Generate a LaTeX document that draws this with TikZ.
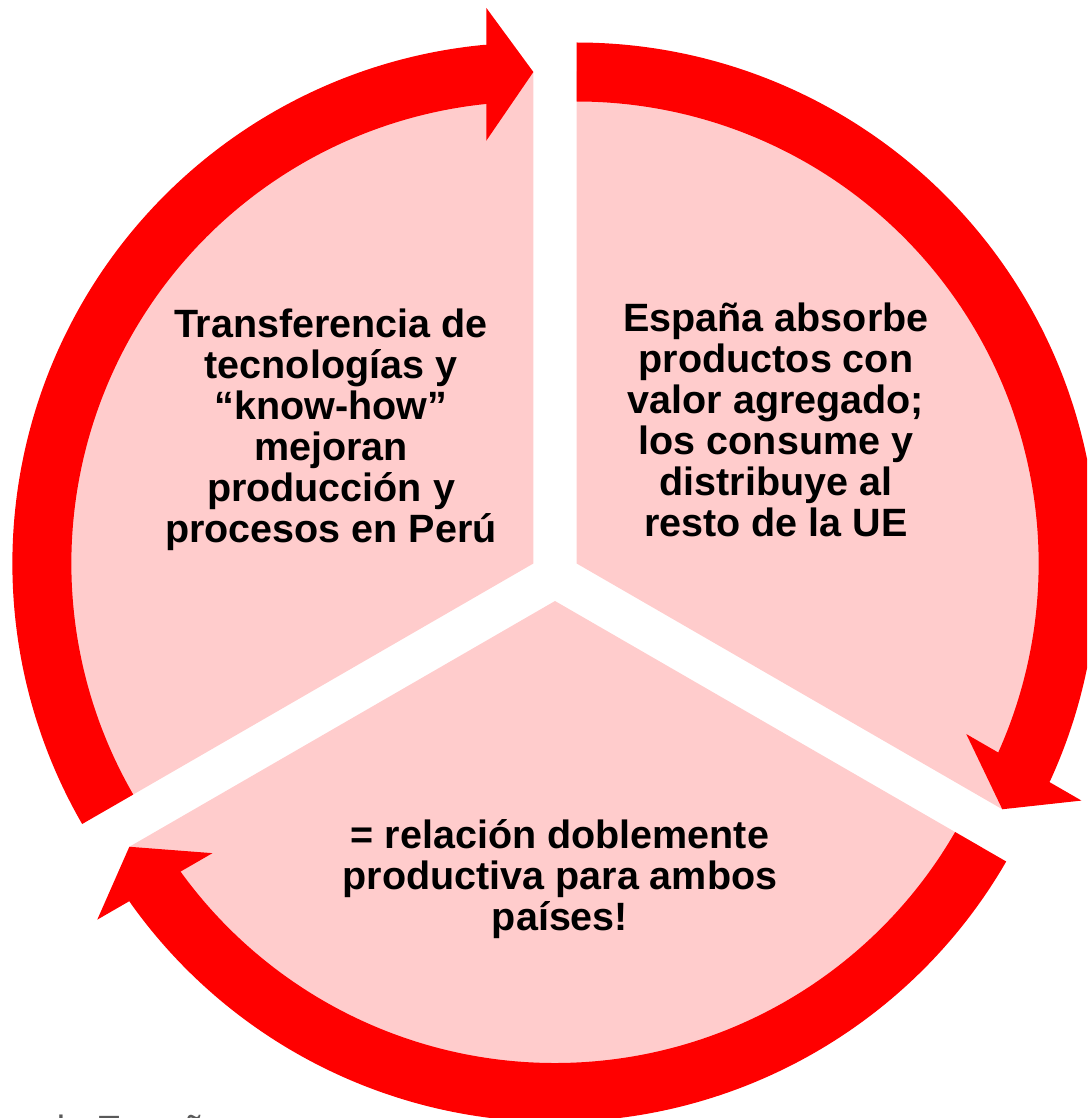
\documentclass[tikz,border=0pt]{standalone}
\usepackage{fontspec}
\setmainfont{Liberation Sans}
\usetikzlibrary{calc}
\definecolor{ringred}{RGB}{255,0,0}
\definecolor{wedgepink}{RGB}{255,204,204}
\definecolor{notegray}{RGB}{89,89,89}
\tikzset{
  wedge/.style={fill=wedgepink},
  arrowband/.style={fill=ringred},
  cycletext/.style={font=\bfseries\fontsize{39.5}{41}\selectfont, align=center, inner sep=0pt, text=black},
  sourcetext/.style={font=\fontsize{38}{40}\selectfont, text=notegray, anchor=base west, inner sep=0pt}
}
\def\Rin{462pt}
\def\Rout{521pt}
\def\Rmid{491.5pt}
\def\Hhalf{66.5pt}
\def\Bhalf{29.5pt}
\def\Rwedge{492pt}
% apex, tail angle, head base angle, tip angle
\newcommand\cyclearrow[4]{%
  \fill[arrowband] ($(#1)+(#2:\Rin)$) arc[start angle=#2, end angle=#3, radius=\Rin]
    -- ($(#1)+(#3:\Rmid)-(#4:\Bhalf)$)
    -- ($(#1)+(#3:\Rmid)-(#4:\Hhalf)$) -- ($(#1)+(#4:\Rmid)$) -- ($(#1)+(#3:\Rmid)+(#4:\Hhalf)$)
    -- ($(#1)+(#3:\Rmid)+(#4:\Bhalf)$)
    -- ($(#1)+(#3:\Rout)$) arc[start angle=#3, end angle=#2, radius=\Rout] -- cycle;}
\begin{document}
\begin{tikzpicture}[x=1pt,y=1pt]
\useasboundingbox (0,0) rectangle (1087,-1118);
\clip (0,0) rectangle (1087,-1118);
\coordinate (O) at (555,-576);
\coordinate (A1) at ($(O)+(150:25pt)$);
\coordinate (A2) at ($(O)+(30:25pt)$);
\coordinate (A3) at ($(O)+(270:25pt)$);
% wedges
\fill[wedge] (A1) -- ($(A1)+(90:\Rwedge)$) arc[start angle=90, end angle=210, radius=\Rwedge] -- cycle;
\fill[wedge] (A2) -- ($(A2)+(-30:\Rwedge)$) arc[start angle=-30, end angle=90, radius=\Rwedge] -- cycle;
\fill[wedge] (A3) -- ($(A3)+(210:\Rwedge)$) arc[start angle=210, end angle=330, radius=\Rwedge] -- cycle;
% arrows
\cyclearrow{A1}{210}{95.5}{90}
\cyclearrow{A2}{90}{-24.5}{-30}
\cyclearrow{A3}{330}{215.5}{210}
% texts
\node[cycletext] (t1) at (331,-429.3) {Transferencia de\\tecnologías y\\“know-how”\\mejoran\\producción y\\procesos en Perú};
\node[cycletext] (t2) at (776,-420.1) {España absorbe\\productos con\\valor agregado;\\los consume y\\distribuye al\\resto de la UE};
\node[cycletext] (t3) at (560,-878.8) {= relación doblemente\\productiva para ambos\\países!};
\node[sourcetext] (src) at (44,-1142) {de España};
\end{tikzpicture}
\end{document}
